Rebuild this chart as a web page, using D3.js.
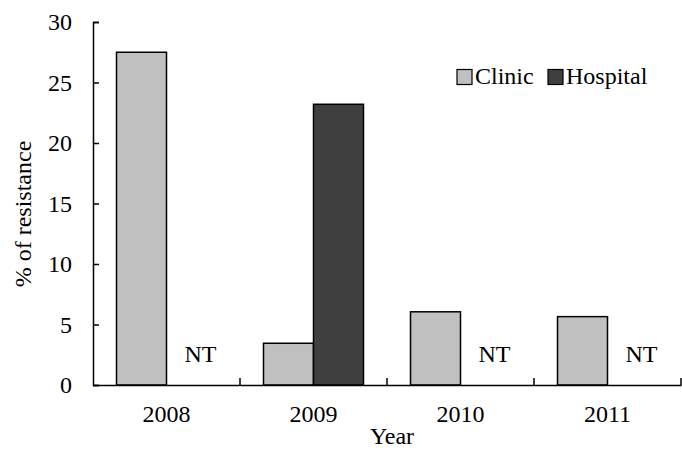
<!DOCTYPE html>
<html><head><meta charset="utf-8">
<script src="https://cdn.jsdelivr.net/npm/d3@7"></script>
<style>body{margin:0;background:#fff}text{font-family:"Liberation Serif","Times New Roman",serif;fill:#000}</style>
</head><body><svg id="c" width="682" height="450"></svg>
<script>
const years = ["2008","2009","2010","2011"];
const series = ["Clinic","Hospital"];
const clinic = [27.5, 3.45, 6.05, 5.65];
const hospital = [null, 23.2, null, null];
const colors = ["#c0c0c0","#404040"];
const yTicks = [0,5,10,15,20,25,30];
const ntLabel = "NT";

const svg = d3.select("#c");
const L = 93, R = 681, T = 22, B = 385;
const fs = 24;
const x0 = d3.scaleBand().domain(years).range([L,R]).padding(0);
const x1 = d3.scaleBand().domain(series).range([0,x0.bandwidth()]).paddingInner(0).paddingOuter(0.47);
const y = d3.scaleLinear().domain([0,30]).range([B,T]);
const data = years.map((yr,i)=>({year:yr, vals:[clinic[i],hospital[i]]}));

// bars
const g = svg.append("g");
data.forEach(d=>{
  d.vals.forEach((v,j)=>{
    const xs = x0(d.year)+x1(series[j]);
    if(v==null){
      g.append("text").attr("x", xs + x1.bandwidth()/2 + 9).attr("y", 362)
        .attr("text-anchor","middle").attr("font-size",fs).text(ntLabel);
    } else {
      g.append("rect").attr("x",xs).attr("width",x1.bandwidth())
        .attr("y",y(v)).attr("height",y(0)-y(v))
        .attr("fill",colors[j]).attr("stroke","#000").attr("stroke-width",1.5);
    }
  });
});

// y axis
const ya = svg.append("g").attr("transform",`translate(${L},0)`)
  .call(d3.axisLeft(y).tickValues(yTicks).tickSize(-6).tickPadding(21));
ya.select(".domain").attr("stroke","#000").attr("stroke-width",1.5);
ya.selectAll(".tick line").attr("stroke","#000").attr("stroke-width",1.5);
ya.selectAll(".tick text").attr("font-size",fs).attr("fill","#000");

// x axis
const xa = svg.append("g").attr("transform",`translate(0,${B})`)
  .call(d3.axisBottom(x0).tickSize(0).tickPadding(20));
xa.select(".domain").attr("stroke","#000").attr("stroke-width",1.5);
xa.selectAll(".tick text").attr("font-size",fs).attr("fill","#000").attr("dy","0.71em");
const bounds = years.map(yr=>x0(yr)).concat([x0(years[years.length-1])+x0.bandwidth()]).slice(1);
xa.selectAll(".btick").data(bounds).enter().append("line")
  .attr("x1",d=>d).attr("x2",d=>d).attr("y1",0).attr("y2",-7)
  .attr("stroke","#000").attr("stroke-width",1.5);

// axis titles
svg.append("text").attr("x",392).attr("y",444).attr("text-anchor","middle").attr("font-size",fs).text("Year");
svg.append("text").attr("transform",`translate(31,214) rotate(-90)`).attr("text-anchor","middle").attr("font-size",fs).text("% of resistance");

// legend
const leg = svg.append("g");
const legX = [457, 548];
series.forEach((s,j)=>{
  leg.append("rect").attr("x",legX[j]).attr("y",69.5).attr("width",15).attr("height",15)
    .attr("fill",colors[j]).attr("stroke","#000").attr("stroke-width",1.2);
  leg.append("text").attr("x",legX[j]+18).attr("y",83.5).attr("font-size",fs).text(s);
});
</script></body></html>
